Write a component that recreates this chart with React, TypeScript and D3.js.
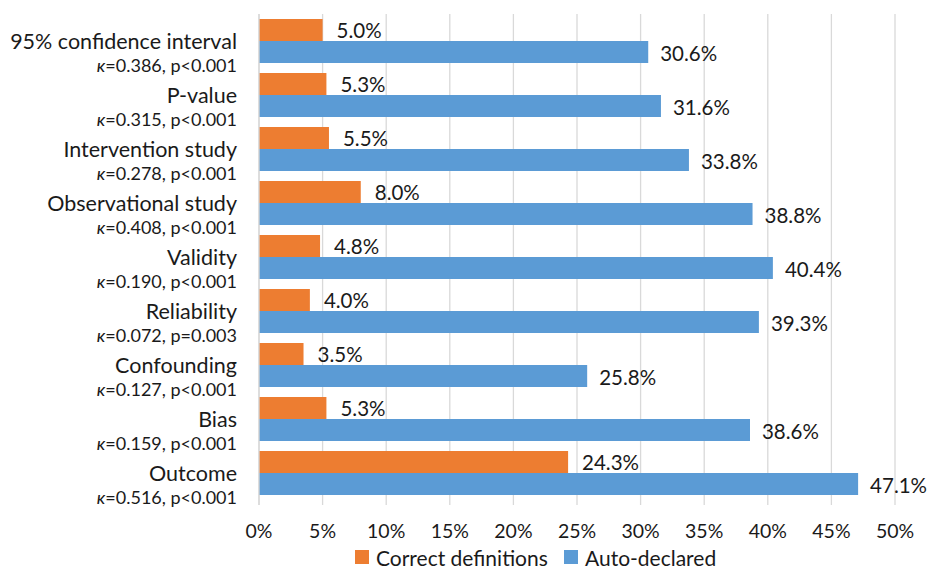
import React, { useEffect, useRef } from "react";
import * as d3 from "d3";

const categories = [
  "95% confidence interval",
  "P-value",
  "Intervention study",
  "Observational study",
  "Validity",
  "Reliability",
  "Confounding",
  "Bias",
  "Outcome",
];
const kappas = ["0.386", "0.315", "0.278", "0.408", "0.190", "0.072", "0.127", "0.159", "0.516"];
const pvals = ["p<0.001", "p<0.001", "p<0.001", "p<0.001", "p<0.001", "p=0.003", "p<0.001", "p<0.001", "p<0.001"];
const correct = [5.0, 5.3, 5.5, 8.0, 4.8, 4.0, 3.5, 5.3, 24.3];
const autoDeclared = [30.6, 31.6, 33.8, 38.8, 40.4, 39.3, 25.8, 38.6, 47.1];
const ticks = [0, 5, 10, 15, 20, 25, 30, 35, 40, 45, 50];

const ORANGE = "#ED7D31";
const BLUE = "#5B9BD5";
const FONT = "Lato, 'Open Sans', sans-serif";

export default function App() {
  const ref = useRef<SVGSVGElement>(null);

  useEffect(() => {
    const width = 928, height = 568;
    const margin = { top: 14, right: 33, bottom: 68, left: 259 };
    const w = width - margin.left - margin.right;
    const h = height - margin.top - margin.bottom;

    const svg = d3.select(ref.current);
    svg.selectAll("*").remove();
    const g = svg.append("g").attr("transform", `translate(${margin.left},${margin.top})`);

    const x = d3.scaleLinear().domain([0, 50]).range([0, w]);
    const y = d3.scaleBand().domain(categories).range([0, h]).paddingInner(10 / 54).paddingOuter(5 / 54);
    const barH = y.bandwidth() / 2;

    // gridlines
    g.selectAll(".grid").data(ticks).join("line")
      .attr("x1", d => x(d)).attr("x2", d => x(d))
      .attr("y1", 0).attr("y2", h + 5)
      .attr("stroke", "#D9D9D9").attr("stroke-width", 1.3);

    // bars
    const rows = categories.map((c, i) => ({ c, a: correct[i], b: autoDeclared[i] }));
    g.selectAll(".barA").data(rows).join("rect")
      .attr("x", 0).attr("y", d => y(d.c)!)
      .attr("width", d => x(d.a)).attr("height", barH)
      .attr("fill", ORANGE);
    g.selectAll(".barB").data(rows).join("rect")
      .attr("x", 0).attr("y", d => y(d.c)! + barH)
      .attr("width", d => x(d.b)).attr("height", barH)
      .attr("fill", BLUE);

    // value labels
    const lab = (sel: any) => sel.attr("font-family", FONT).attr("font-size", 20.5).attr("fill", "#1a1a1a").attr("dominant-baseline", "central");
    g.selectAll(".labA").data(rows).join("text")
      .attr("x", d => x(d.a) + 14).attr("y", d => y(d.c)! + barH / 2)
      .text(d => d.a.toFixed(1) + "%").call(lab);
    g.selectAll(".labB").data(rows).join("text")
      .attr("x", d => x(d.b) + 12).attr("y", d => y(d.c)! + barH * 1.5 + 1)
      .text(d => d.b.toFixed(1) + "%").call(lab);

    // baseline axis
    g.append("line").attr("x1", 0).attr("x2", 0).attr("y1", 0).attr("y2", h + 5)
      .attr("stroke", "#D9D9D9").attr("stroke-width", 1.3);

    // x tick labels
    g.selectAll(".tick").data(ticks).join("text")
      .attr("x", d => x(d)).attr("y", h + 30)
      .attr("text-anchor", "middle").attr("dominant-baseline", "central")
      .attr("font-family", FONT).attr("font-size", 19.5).attr("fill", "#1a1a1a")
      .text(d => d + "%");

    // category labels
    const cl = g.selectAll(".cat").data(categories).join("g")
      .attr("transform", c => `translate(-22,${y(c)! + y.bandwidth() / 2})`);
    cl.append("text")
      .attr("text-anchor", "end").attr("y", 0).attr("dominant-baseline", "central")
      .attr("font-family", FONT).attr("font-size", 21.5).attr("fill", "#1a1a1a")
      .text(c => c);
    const k = cl.append("text")
      .attr("text-anchor", "end").attr("y", 24).attr("dominant-baseline", "central")
      .attr("font-family", FONT).attr("font-size", 18).attr("fill", "#1a1a1a");
    k.append("tspan").attr("font-style", "italic").text("κ");
    k.append("tspan").text((c, i) => `=${kappas[i]}, ${pvals[i]}`);

    // legend
    const legend = [
      { name: "Correct definitions", color: ORANGE, x: 355 },
      { name: "Auto-declared", color: BLUE, x: 564 },
    ];
    const lg = svg.selectAll(".lg").data(legend).join("g")
      .attr("transform", d => `translate(${d.x},550)`);
    lg.append("rect").attr("width", 14).attr("height", 14).attr("fill", d => d.color);
    lg.append("text").attr("x", 21).attr("y", 7).attr("dominant-baseline", "central")
      .attr("font-family", FONT).attr("font-size", 21).attr("fill", "#1a1a1a")
      .text(d => d.name);
  }, []);

  return (
    <svg ref={ref} width={928} height={568} style={{ position: "absolute", left: 0, top: 0, background: "#fff" }} />
  );
}
